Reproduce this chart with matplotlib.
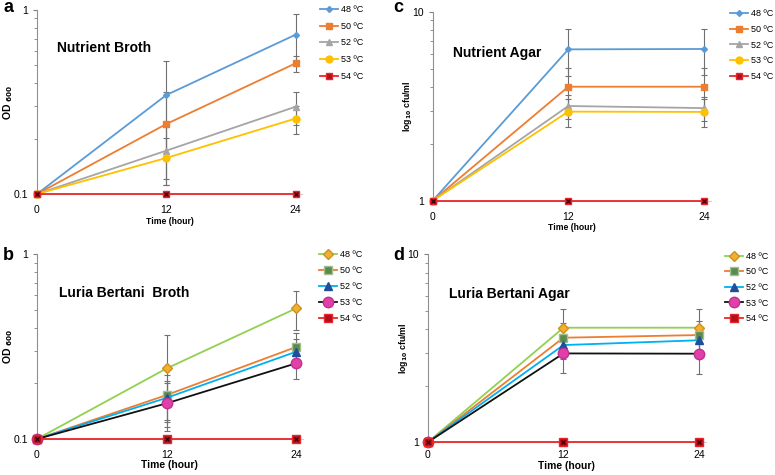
import matplotlib
matplotlib.use("Agg")
import matplotlib.pyplot as plt
import numpy as np

plt.rcParams['font.family'] = ['Liberation Sans', 'DejaVu Sans']
plt.rcParams['mathtext.default'] = 'bf'

W, H = 775, 475

time = [0, 12, 24]
temps = ['48 ºC', '50 ºC', '52 ºC', '53 ºC', '54 ºC']

# Panel a: Nutrient Broth (OD600)
a_vals = [[0.1, 0.345, 0.734], [0.1, 0.240, 0.513], [0.1, 0.172, 0.298], [0.1, 0.157, 0.257], [0.1, 0.1, 0.1]]
a_err = [[0, 0.18, 0.22], [0, 0.12, 0.05], [0, 0.06, 0.06], [0, 0.045, 0.045], [0, 0, 0]]
# Panel c: Nutrient Agar (log10 cfu/ml)
c_vals = [[1, 6.32, 6.35], [1, 4.01, 4.01], [1, 3.17, 3.09], [1, 2.96, 2.95], [1, 1, 1]]
c_err = [[0, 1.75, 1.75], [0, 1.0, 1.0], [0, 0.45, 0.45], [0, 0.5, 0.5], [0, 0, 0]]
# Panel b: Luria Bertani Broth (OD600)
b_vals = [[0.1, 0.241, 0.510], [0.1, 0.173, 0.315], [0.1, 0.167, 0.297], [0.1, 0.156, 0.257], [0.1, 0.1, 0.1]]
b_err = [[0, 0.125, 0.12], [0, 0.05, 0.06], [0, 0.04, 0.05], [0, 0.045, 0.046], [0, 0, 0]]
# Panel d: Luria Bertani Agar (log10 cfu/ml)
d_vals = [[1, 4.07, 4.07], [1, 3.60, 3.72], [1, 3.29, 3.49], [1, 2.97, 2.96], [1, 1, 1]]
d_err = [[0, 1.05, 1.05], [0, 0.7, 0.7], [0, 0.5, 0.5], [0, 0.64, 0.64], [0, 0, 0]]

style1 = [
    dict(color='#5B9BD5', marker='D', ms=3, mfc='#5B9BD5', mec='#5B9BD5'),
    dict(color='#ED7D31', marker='s', ms=4.5, mfc='#ED7D31', mec='#ED7D31'),
    dict(color='#A5A5A5', marker='^', ms=4.5, mfc='#A5A5A5', mec='#A5A5A5'),
    dict(color='#FFC000', marker='o', ms=5, mfc='#FFC000', mec='#FFC000'),
    dict(color='#E8262A', marker='s', ms=5, mfc='#B01020', mec='#E8262A'),
]
style2 = [
    dict(color='#92D050', marker='D', ms=5, mfc='#F0B030', mec='#D09020'),
    dict(color='#ED7D31', marker='s', ms=6, mfc='#5A8A50', mec='#A0C090'),
    dict(color='#00B0F0', marker='^', ms=6, mfc='#1F4E9A', mec='#1F4E9A'),
    dict(color='#111111', marker='o', ms=7.5, mfc='#E040A8', mec='#C03090'),
    dict(color='#E8262A', marker='s', ms=6, mfc='#B01020', mec='#E8262A'),
]


def px(x, y):
    return x / W, 1 - y / H


def rect_px(x0, x1, ytop, ybot):
    return [x0 / W, 1 - ybot / H, (x1 - x0) / W, (ybot - ytop) / H]


fig = plt.figure(figsize=(7.75, 4.75), dpi=100)

panels = [
    dict(label='a', lab_xy=(3, 8), rect=rect_px(37, 302, 10, 194), vals=a_vals, errs=a_err, styles=style1,
         title='Nutrient Broth', title_xy=(57, 48), ylab='OD $_{600}$', ylab_fs=7.5, ylab_x=8,
         ylim=(0.1, 1), ylabels=['0.1', '1'], xlab_y=221, xlab_fs=6.2, leg_xy=(320, 5), lsp=0.85, xpad=6),
    dict(label='c', lab_xy=(393, 8), rect=rect_px(432.7, 710.7, 11.7, 200.7), vals=c_vals, errs=c_err, styles=style1,
         title='Nutrient Agar', title_xy=(453, 53), ylab='log$_{10}$ cfu/ml', ylab_fs=6.3, ylab_x=407,
         ylim=(1, 10), ylabels=['1', '10'], xlab_y=228, xlab_fs=6.2, leg_xy=(730, 9), lsp=0.75, xpad=6),
    dict(label='b', lab_xy=(3, 256), rect=rect_px(37, 302.7, 254.3, 439), vals=b_vals, errs=b_err, styles=style2,
         title='Luria Bertani  Broth', title_xy=(59, 293), ylab='OD $_{600}$', ylab_fs=7.5, ylab_x=8,
         ylim=(0.1, 1), ylabels=['0.1', '1'], xlab_y=465, xlab_fs=7.4, leg_xy=(319, 250), lsp=0.78, xpad=6),
    dict(label='d', lab_xy=(393, 256), rect=rect_px(427.7, 706, 254.3, 442.3), vals=d_vals, errs=d_err, styles=style2,
         title='Luria Bertani Agar', title_xy=(449, 294), ylab='log$_{10}$ cfu/ml', ylab_fs=6.3, ylab_x=403,
         ylim=(1, 10), ylabels=['1', '10'], xlab_y=466, xlab_fs=7.4, leg_xy=(725, 252), lsp=0.72, xpad=3.5),
]

for p in panels:
    ax = fig.add_axes(p['rect'])
    ax.set_yscale('log')
    for v, e in zip(p['vals'], p['errs']):
        e = np.array(e)
        if e.any():
            ax.errorbar(time[1:], v[1:], yerr=e[1:], fmt='none', ecolor='#707070',
                        elinewidth=0.8, capsize=2.5, capthick=0.8, zorder=1)
    handles = []
    for v, st, t in zip(p['vals'], p['styles'], temps):
        ln, = ax.plot(time, v, lw=1.3, zorder=3, clip_on=False, **st)
        handles.append(ln)
        if t.startswith('54'):
            ax.plot(time, v, ls='none', marker='x', ms=2.8, mec='#300000', mew=0.8, zorder=4, clip_on=False)
    ax.set_xlim(0, 24.6)
    ax.set_ylim(*p['ylim'])
    ax.set_xticks([0, 12, 24])
    ax.set_xticklabels(['0', '12', '24'], fontsize=7.5)
    ax.set_yticks(list(p['ylim']))
    ax.set_yticklabels(p['ylabels'], fontsize=7.5)
    ax.yaxis.set_minor_formatter(plt.NullFormatter())
    ax.tick_params(axis='y', which='both', colors='#808080', labelcolor='black', direction='out')
    ax.tick_params(axis='y', which='major', length=3)
    ax.tick_params(axis='y', which='minor', length=2)
    ax.tick_params(axis='x', length=2, colors='#c8c8c8', labelcolor='black', pad=p['xpad'])
    for s in ['top', 'right']:
        ax.spines[s].set_visible(False)
    ax.spines['left'].set_color('#909090')
    ax.spines['bottom'].set_color('#d0d0d0')

    x0 = p['rect'][0] * W
    ybot = (1 - p['rect'][1]) * H
    ax.set_xlabel('Time (hour)', fontsize=p['xlab_fs'], fontweight='bold')
    ax.xaxis.set_label_coords(0.5, (ybot - p['xlab_y']) / (p['rect'][3] * H))
    ax.xaxis.label.set_va('center')
    ax.set_ylabel(p['ylab'], fontsize=p['ylab_fs'], fontweight='bold')
    ax.yaxis.set_label_coords((p['ylab_x'] - x0) / (p['rect'][2] * W), 0.5)
    ax.yaxis.label.set_va('center')

    tx, ty = px(*p['title_xy'])
    fig.text(tx, ty, p['title'], fontsize=10, fontweight='bold', va='center', ha='left')
    lx, ly = px(*p['lab_xy'])
    fig.text(lx, ly, p['label'], fontsize=13, fontweight='bold', va='center', ha='left')

    gx, gy = px(*p['leg_xy'])
    fig.legend(handles, temps, loc='upper left', bbox_to_anchor=(gx, gy),
               frameon=False, fontsize=6.5, handlelength=2.0, handletextpad=0.3,
               labelspacing=p['lsp'], borderaxespad=0, borderpad=0)

fig.savefig('out.png', dpi=100)
